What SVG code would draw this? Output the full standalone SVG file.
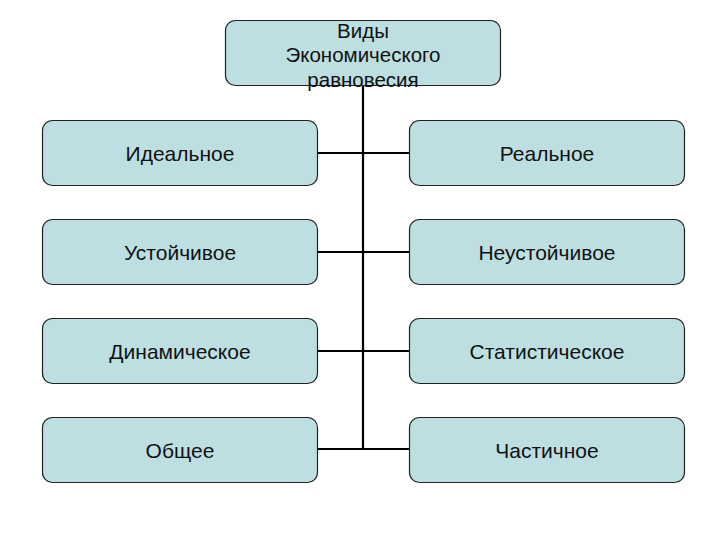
<svg xmlns="http://www.w3.org/2000/svg" width="720" height="540" viewBox="0 0 720 540">
<style>
.box{fill:#BDDFE2;stroke:#222;stroke-width:1.2}
.t{font-family:"Liberation Sans",Arial,sans-serif;font-size:21px;fill:#111;text-anchor:middle}
.h{font-size:20.5px}
.c{stroke:#000;stroke-width:2.2;fill:none}
</style>
<rect width="720" height="540" fill="#fff"/>
<g id="connectors">
<line class="c" x1="363" y1="86" x2="363" y2="449"/>
<line class="c" x1="318" y1="153" x2="410" y2="153"/>
<line class="c" x1="318" y1="252" x2="410" y2="252"/>
<line class="c" x1="318" y1="351" x2="410" y2="351"/>
<line class="c" x1="318" y1="449" x2="410" y2="449"/>
</g>
<g id="root">
<rect class="box" x="225.5" y="20.5" width="275" height="65" rx="10"/>
<text class="t h" x="363" y="37.5">Виды</text>
<text class="t h" x="363" y="62">Экономического</text>
<text class="t h" x="363" y="86.5">равновесия</text>
</g>
<g id="n1"><rect class="box" x="42.5" y="120.5" width="275" height="65" rx="10"/><text class="t" x="180" y="160.5">Идеальное</text></g>
<g id="n2"><rect class="box" x="409.5" y="120.5" width="275" height="65" rx="10"/><text class="t" x="547" y="160.5">Реальное</text></g>
<g id="n3"><rect class="box" x="42.5" y="219.5" width="275" height="65" rx="10"/><text class="t" x="180" y="259.5">Устойчивое</text></g>
<g id="n4"><rect class="box" x="409.5" y="219.5" width="275" height="65" rx="10"/><text class="t" x="547" y="259.5">Неустойчивое</text></g>
<g id="n5"><rect class="box" x="42.5" y="318.5" width="275" height="65" rx="10"/><text class="t" x="180" y="358.5">Динамическое</text></g>
<g id="n6"><rect class="box" x="409.5" y="318.5" width="275" height="65" rx="10"/><text class="t" x="547" y="358.5">Статистическое</text></g>
<g id="n7"><rect class="box" x="42.5" y="417.5" width="275" height="65" rx="10"/><text class="t" x="180" y="457.5">Общее</text></g>
<g id="n8"><rect class="box" x="409.5" y="417.5" width="275" height="65" rx="10"/><text class="t" x="547" y="457.5">Частичное</text></g>
</svg>
